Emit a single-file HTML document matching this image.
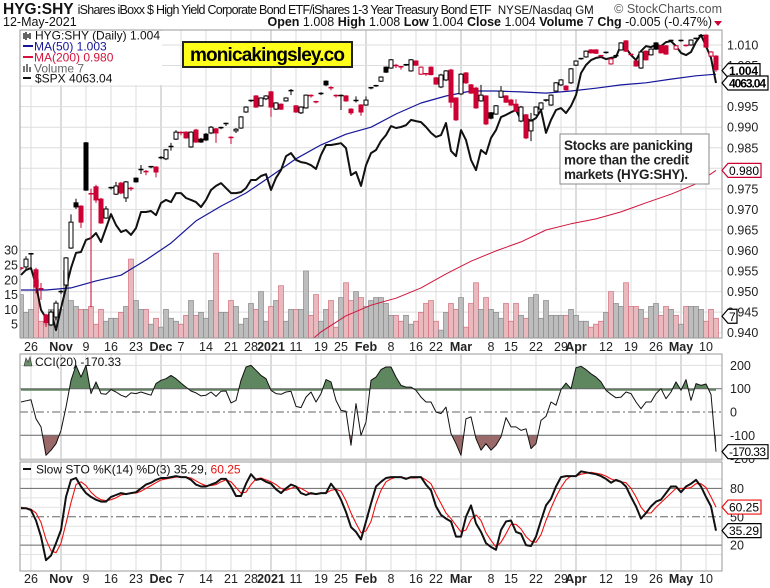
<!DOCTYPE html>
<html><head><meta charset="utf-8">
<style>
html,body{margin:0;padding:0;background:#fff;}
svg{display:block;font-family:"Liberation Sans",Arial,sans-serif;}
</style></head>
<body>
<svg id="chart" width="770" height="588" viewBox="0 0 770 588" xmlns="http://www.w3.org/2000/svg">
<defs>
<clipPath id="mainClip"><rect x="20" y="30" width="702" height="308"/></clipPath>
<clipPath id="cciClip"><rect x="20" y="354" width="702" height="106"/></clipPath>
<clipPath id="stoClip"><rect x="20" y="462" width="702" height="109"/></clipPath>
<clipPath id="cciUp"><rect x="20" y="354" width="702" height="36.7"/></clipPath>
<clipPath id="cciDn"><rect x="20" y="435.3" width="702" height="30"/></clipPath>
</defs>
<rect width="770" height="588" fill="#fff"/>
<g>
<text x="3" y="14" font-size="12.5" fill="#111"><tspan font-weight="bold" font-size="15.5">HYG:SHY</tspan><tspan dx="4" textLength="414">iShares iBoxx $ High Yield Corporate Bond ETF/iShares 1-3 Year Treasury Bond ETF</tspan><tspan dx="7" font-size="11.5">NYSE/Nasdaq GM</tspan></text>
<text x="722" y="13" font-size="12.5" fill="#555" text-anchor="end">© StockCharts.com</text>
<text x="3" y="26" font-size="12.5" fill="#111">12-May-2021</text>
<text x="712" y="26" font-size="12.5" fill="#111" text-anchor="end"><tspan font-weight="bold">Open</tspan> 1.008 <tspan font-weight="bold">High</tspan> 1.008 <tspan font-weight="bold">Low</tspan> 1.004 <tspan font-weight="bold">Close</tspan> 1.004 <tspan font-weight="bold">Volume</tspan> 7 <tspan font-weight="bold">Chg</tspan> -0.005 (-0.47%)</text>
<polygon points="714,21 722,21 718,26" fill="#cc0033"/>
</g>
<g id="panels"></g>
</svg>
<script>
// ---------- data ----------
const tickLabels = ['26','Nov','9','16','23','Dec','7','14','21','28','2021','11','19','25','Feb','8','16','22','Mar','8','15','22','29','Apr','12','19','26','May','10'];
const tickIdx = [2,8,13,18,23,28,32,37,42,46,50,55,60,64,69,74,79,83,88,94,98,103,108,111,117,122,127,132,137];
const tickBold = [false,true,false,false,false,true,false,false,false,false,true,false,false,false,true,false,false,false,true,false,false,false,false,true,false,false,false,true,false];
const priceTicks = [1.010,1.005,1.000,0.995,0.990,0.985,0.980,0.975,0.970,0.965,0.960,0.955,0.950,0.945,0.940];
const volTicks = [5,10,15,20,25,30];
const openP = [.9557,.9560,.9592,.9553,.9507,.9443,.9419,.9438,.9500,.9516,
 .9606,.9716,.9708,.9862,.9738,.9755,.9725,.9679,.9753,.9737,
 .9764,.9728,.9751,.9776,.9797,.9792,.9804,.9803,.9826,.9823,
 .9853,.9871,.9887,.9888,.9852,.9893,.9871,.9883,.9886,.9896,
 .9899,.9909,.9875,.9891,.9898,.9937,.9965,.9976,.9952,.9969,
 .9986,.9944,.9956,.9964,.9989,.9952,.9935,.9947,.9977,.9962,
 .9982,1.0012,.9996,.9977,.9977,.9976,.9944,.9963,.9954,.9954,
 .9996,1.0001,1.0012,1.0046,1.0044,1.0050,1.0047,1.0052,1.0037,1.0061,
 1.0029,1.0030,1.0046,1.0020,.9998,1.0015,1.0039,.9971,.9981,1.0032,
 1.0003,.9995,.9964,.9976,.9935,.9932,.9973,.9976,.9966,.9956,
 .9915,.9930,.9891,.9930,.9944,.9966,.9954,.9988,1.0003,1.0000,
 1.0008,1.0051,1.0067,1.0071,1.0088,1.0088,1.0074,1.0082,1.0054,1.0074,
 1.0088,1.0110,1.0077,1.0061,1.0044,1.0085,1.0076,1.0105,1.0098,1.0098,
 1.0111,1.0090,1.0111,1.0099,1.0100,1.0116,1.0123,1.0124,1.0073,1.0073];
const closeP = [.9557,.9579,.9591,.9511,.9506,.9424,.9450,.9472,.9499,.9582,
 .9669,.9706,.9669,.9747,.9737,.9723,.9667,.9701,.9752,.9757,
 .9740,.9767,.9750,.9767,.9796,.9791,.9803,.9791,.9825,.9845,
 .9852,.9888,.9886,.9874,.9888,.9864,.9864,.9869,.9900,.9886,
 .9898,.9908,.9874,.9895,.9925,.9949,.9964,.9949,.9971,.9976,
 .9949,.9959,.9944,.9971,.9988,.9937,.9949,.9978,.9976,.9961,
 .9981,1.0003,.9995,.9976,.9977,.9964,.9935,.9965,.9937,.9966,
 .9995,1.0000,1.0022,1.0034,1.0064,1.0049,1.0046,1.0051,1.0064,1.0051,
 1.0046,1.0029,1.0028,1.0005,1.0027,1.0037,.9961,.9918,1.0029,1.0008,
 .9983,.9947,.9978,.9908,.9922,.9952,.9988,.9961,.9954,.9939,
 .9949,.9874,.9915,.9949,.9959,.9964,.9978,1.0008,1.0015,.9991,
 1.0042,1.0061,1.0066,1.0085,1.0081,1.0080,1.0073,1.0081,1.0066,1.0073,
 1.0105,1.0085,1.0076,1.0049,1.0083,1.0064,1.0090,1.0090,1.0081,1.0078,
 1.0110,1.0098,1.0110,1.0098,1.0112,1.0115,1.0122,1.0095,1.0083,1.0040];
const highP = [.9560,.9586,.9594,.9558,.9521,.9446,.9455,.9478,.9504,.9584,
 .9688,.9726,.9710,.9864,.9750,.9760,.9728,.9708,.9755,.9767,
 .9767,.9769,.9755,.9778,.9808,.9796,.9805,.9805,.9830,.9847,
 .9862,.9893,.9890,.9890,.9890,.9896,.9874,.9886,.9903,.9898,
 .9901,.9911,.9878,.9898,.9927,.9951,.9966,.9978,.9973,.9978,
 .9988,.9961,.9958,.9973,.9993,.9954,.9951,.9980,.9980,.9964,
 .9985,1.0014,1.0000,.9980,.9980,.9978,.9946,.9975,.9956,.9975,
 .9998,1.0003,1.0024,1.0048,1.0066,1.0054,1.0049,1.0054,1.0066,1.0063,
 1.0048,1.0032,1.0048,1.0022,1.0030,1.0039,1.0042,.9973,1.0032,1.0034,
 1.0005,.9998,1.0003,.9978,.9937,.9954,1.0000,.9978,.9969,.9968,
 .9952,.9932,.9935,.9951,.9961,.9968,.9980,1.0010,1.0017,1.0002,
 1.0044,1.0063,1.0068,1.0087,1.0090,1.0090,1.0076,1.0084,1.0068,1.0076,
 1.0107,1.0112,1.0079,1.0063,1.0085,1.0087,1.0092,1.0107,1.0100,1.0100,
 1.0113,1.0100,1.0113,1.0101,1.0114,1.0118,1.0125,1.0126,1.0085,1.0075];
const lowP = [.9552,.9553,.9553,.9496,.9480,.9414,.9416,.9430,.9494,.9514,
 .9604,.9701,.9655,.9745,.9462,.9716,.9665,.9677,.9748,.9735,
 .9737,.9718,.9745,.9765,.9786,.9783,.9800,.9778,.9822,.9820,
 .9843,.9869,.9880,.9872,.9850,.9862,.9862,.9866,.9883,.9862,
 .9895,.9903,.9859,.9886,.9896,.9935,.9961,.9947,.9950,.9966,
 .9925,.9942,.9942,.9962,.9978,.9935,.9932,.9945,.9972,.9958,
 .9978,1.0000,.9990,.9972,.9942,.9962,.9930,.9960,.9928,.9952,
 .9992,.9998,1.0010,1.0032,1.0042,1.0044,1.0040,1.0049,1.0035,1.0049,
 1.0027,1.0025,1.0026,1.0003,.9995,1.0012,.9947,.9915,.9978,1.0005,
 .9981,.9945,.9962,.9905,.9919,.9930,.9971,.9959,.9952,.9937,
 .9912,.9871,.9866,.9928,.9942,.9962,.9952,.9986,1.0000,.9989,
 1.0005,1.0049,1.0064,1.0069,1.0079,1.0078,1.0071,1.0079,1.0052,1.0071,
 1.0086,1.0083,1.0074,1.0047,1.0042,1.0062,1.0074,1.0088,1.0079,1.0076,
 1.0108,1.0088,1.0108,1.0096,1.0098,1.0113,1.0120,1.0093,1.0071,1.0035];
const volume = [15,9,10,20,6,5,10,7,10,23,
 13,11,10,10,11,5,10,6,7,7,
 9,11,27,13,10,10,5,7,4,10,
 7,6,5,8,13,8,9,7,13,29,
 9,9,13,11,5,7,12,10,16,6,
 11,13,18,6,10,10,10,23,8,15,
 6,10,13,4,14,19,13,16,14,11,
 13,14,14,12,8,8,6,8,5,6,
 9,12,13,6,3,9,12,10,14,4,
 12,19,10,14,10,9,7,12,6,12,
 8,7,14,15,7,13,8,8,8,8,
 10,8,6,6,4,5,6,9,16,12,
 11,19,11,11,10,7,11,12,8,11,
 10,8,5,11,11,11,10,6,10,7];
const spx = [3444,3460,3466,3411,3331,3305,3324,3266,3337,3402,
 3466,3515,3518,3557,3563,3579,3550,3595,3640,3605,
 3582,3589,3573,3595,3647,3647,3650,3637,3676,3686,
 3679,3708,3708,3692,3686,3679,3663,3686,3718,3731,
 3740,3724,3708,3708,3711,3724,3750,3750,3763,3769,
 3718,3757,3782,3827,3837,3815,3808,3805,3798,3786,
 3831,3863,3863,3866,3869,3853,3766,3776,3731,3798,
 3837,3847,3876,3895,3924,3918,3921,3927,3944,3940,
 3937,3921,3902,3889,3895,3934,3844,3827,3911,3879,
 3815,3782,3847,3834,3886,3911,3953,3960,3969,3976,
 3944,3950,3940,3950,3976,3902,3944,3976,3982,3966,
 3989,4024,4095,4121,4137,4144,4147,4140,4144,4147,
 4186,4176,4153,4137,4166,4182,4179,4186,4182,4195,
 4198,4182,4160,4153,4163,4195,4218,4182,4144,4063.04];
const maIdx = [0,5,10,15,20,25,30,35,40,45,50,55,60,65,70,75,80,85,90,95,100,105,110,115,120,125,130,135,139];
const ma50 = [.9504,.9504,.9509,.9526,.9540,.9577,.9618,.9672,.9708,.9740,.9781,.9823,.9857,.9883,.9900,.9932,.9959,.9976,.9988,.9988,.9986,.9983,.9988,.9995,1.0003,1.0008,1.0017,1.0025,1.0029];
const ma200 = [null,null,null,null,null,null,null,null,null,null,null,.9350,.9402,.9441,.9467,.9484,.9509,.9543,.9574,.9599,.9621,.9650,.9665,.9677,.9694,.9716,.9737,.9762,.9795];
const cci = [43,48,53,-29,-64,-186,-164,-136,-79,21,
 136,200,150,200,79,129,79,76,96,86,
 72,64,82,79,86,79,72,122,136,143,
 157,143,124,107,90,82,69,72,86,67,
 89,90,39,50,136,193,200,179,157,143,
 93,79,76,86,89,24,19,64,86,43,
 79,139,129,50,7,3,-143,36,-100,-43,
 136,150,182,193,193,150,114,107,107,93,
 64,43,43,0,-7,21,-93,-136,-186,-29,
 -21,-114,-164,-136,-164,-143,-107,-24,-64,-64,
 -79,-72,-157,-136,-36,-19,43,29,96,124,
 100,190,196,182,164,150,129,93,76,61,
 64,86,79,43,14,43,43,79,100,57,
 86,129,93,139,50,122,114,120,75,-170.33];
const stoK = [59,59,57,46,29,4,9,22,36,71,
 89,91,82,75,71,68,66,66,71,73,
 75,74,75,76,80,84,86,89,91,91,
 92,93,92,92,89,84,82,82,84,86,
 90,90,82,72,72,85,95,89,90,87,
 85,79,75,80,84,82,75,73,75,74,
 75,75,85,78,68,55,39,34,26,45,
 64,82,87,91,92,92,92,90,92,92,
 92,84,78,61,52,48,45,29,29,50,
 62,43,34,22,18,15,36,45,46,34,
 32,20,19,29,46,62,69,82,92,93,
 93,93,98,97,96,95,93,90,86,89,
 87,82,71,61,48,54,61,66,68,75,
 82,82,76,82,85,89,82,71,61,35.29];
const stoD = [60,59,58,54,44,26,14,12,22,43,
 65,84,87,83,76,71,68,67,68,70,
 73,74,75,75,77,80,83,86,89,90,
 91,92,92,92,91,88,85,83,83,84,
 87,89,87,81,75,76,84,90,91,89,
 87,84,80,78,80,82,80,77,74,74,
 75,75,78,79,77,67,54,43,33,35,
 45,64,78,87,90,92,92,91,91,91,
 92,89,85,74,64,54,48,41,34,36,
 47,52,46,33,25,18,23,32,42,42,
 37,29,24,23,31,46,59,71,81,89,
 93,93,95,96,97,96,95,93,90,88,
 87,86,80,71,60,54,54,60,65,70,
 75,80,80,80,81,85,85,81,71,60.25];

// ---------- scales ----------
const L = 20, R = 722;
const X = i => 21 + 5 * i;
const PY = p => 45 + (1.010 - p) / 0.005 * 20.55;
const VY = v => 339 - v * 2.96;
const SY = v => 83 + (4063.04 - v) * 0.31;
const CY = v => 412 - v * 0.233;
const KY = v => 564 - v * 0.945;

const NS = 'http://www.w3.org/2000/svg';
const root = document.getElementById('panels');
function mk(tag, attrs, parent) {
  const e = document.createElementNS(NS, tag);
  for (const k in attrs) e.setAttribute(k, attrs[k]);
  (parent || root).appendChild(e);
  return e;
}
function txt(x, y, s, attrs, parent) {
  const t = mk('text', Object.assign({x: x, y: y, 'font-size': 12.5, fill: '#222'}, attrs || {}), parent);
  t.textContent = s;
  return t;
}

// ---------- panels backgrounds & grids ----------
const panels = [[30, 338, 'price-panel'], [354, 460, 'cci-panel'], [462, 571, 'sto-panel']];
panels.forEach(p => {
  const r = mk('rect', {x: L, y: p[0], width: R - L, height: p[1] - p[0], fill: '#fff', stroke: 'none'});
  
  
  tickIdx.forEach((ti, k) => {
    const gl = mk('line', {x1: X(ti), x2: X(ti), y1: p[0], y2: p[1], stroke: tickBold[k] ? '#b8b8b8' : '#dedede', 'stroke-width': 1});
    
    
  });
});
priceTicks.forEach(p => {
  const y = PY(p);
  const gl = mk('line', {x1: L, x2: R, y1: y, y2: y, stroke: '#dedede'});
  
  
  const t = txt(727, y + 4.5, p.toFixed(3));
  
  
});
volTicks.forEach(v => {
  const t = txt(18, VY(v) + 4.5, String(v), {'text-anchor': 'end'});
  
  
});

// ---------- main panel marks ----------
const gMain = mk('g', {'clip-path': 'url(#mainClip)'});


volume.forEach((v, i) => {
  const down = i > 0 && closeP[i] < closeP[i - 1];
  const b = mk('rect', {x: X(i) - 2.5, y: VY(v), width: 5, height: 339 - VY(v),
    fill: down ? '#e9b9be' : '#bdbdbd', stroke: down ? '#d4707e' : '#8a8a8a', 'stroke-width': 0.7}, gMain);
  
  
});
function poly(idx, vals, fy, color, w, name, parent) {
  let d = '';
  vals.forEach((v, k) => { if (v === null) return; const i = idx ? idx[k] : k; d += (d ? 'L' : 'M') + X(i).toFixed(1) + ',' + fy(v).toFixed(1); });
  const p = mk('path', {d: d, fill: 'none', stroke: color, 'stroke-width': w, 'stroke-linejoin': 'round'}, parent);
  
  
  return p;
}
poly(maIdx, ma200, PY, '#d2143c', 1, 'ma200-line', gMain);
poly(maIdx, ma50, PY, '#16169a', 1.2, 'ma50-line', gMain);
poly(null, spx, SY, '#111', 2, 'spx-line', gMain);
openP.forEach((o, i) => {
  const c = closeP[i];
  const col = (i > 0 && c >= closeP[i - 1]) ? '#000' : '#cc0033';
  const up = c > o;
  const yTop = PY(Math.max(o, c)), yBot = PY(Math.min(o, c));
  const g = mk('g', {}, gMain);
  
  
  mk('line', {x1: X(i), x2: X(i), y1: PY(highP[i]), y2: PY(lowP[i]), stroke: col, 'stroke-width': 1}, g);
  const h = Math.max(yBot - yTop, 1);
  if (h <= 1.2) {
    mk('line', {x1: X(i) - 2.5, x2: X(i) + 2.5, y1: yTop, y2: yTop, stroke: col, 'stroke-width': 1.5}, g);
  } else {
    mk('rect', {x: X(i) - 2, y: yTop, width: 4, height: h, fill: up ? '#fff' : col, stroke: col, 'stroke-width': 1}, g);
  }
});

// ---------- CCI panel ----------
[200, -200].forEach(v => {
  const gl = mk('line', {x1: L, x2: R, y1: CY(v), y2: CY(v), stroke: '#dedede'});
  
  
});
let cciPts = cci.map((v, i) => X(i).toFixed(1) + ',' + CY(v).toFixed(1)).join(' ');
const upFill = mk('polygon', {points: X(0) + ',' + CY(100) + ' ' + cciPts + ' ' + X(cci.length - 1) + ',' + CY(100), fill: '#5f875f', stroke: 'none', 'clip-path': 'url(#cciUp)'});


const dnFill = mk('polygon', {points: X(0) + ',' + CY(-100) + ' ' + cciPts + ' ' + X(cci.length - 1) + ',' + CY(-100), fill: '#9a6a6a', stroke: 'none', 'clip-path': 'url(#cciDn)'});


[100, -100].forEach(v => {
  const gl = mk('line', {x1: L, x2: R, y1: CY(v), y2: CY(v), stroke: '#666', 'stroke-width': 1});
  
  
});
const z0 = mk('line', {x1: L, x2: R, y1: CY(0), y2: CY(0), stroke: '#666', 'stroke-dasharray': '8,3,2,3'});


[200, 100, 0, -100, -200].forEach(v => {
  const t = txt(730, CY(v) + 4.5, String(v));
  
  
});
const gC = mk('g', {'clip-path': 'url(#cciClip)'});


poly(null, cci, CY, '#111', 1, 'cci-line', gC);

// ---------- STO panel ----------
[10, 30, 40, 60, 70, 90].forEach(v => {
  const gl = mk('line', {x1: L, x2: R, y1: KY(v), y2: KY(v), stroke: '#e2e2e2'});
  
  
});
[80, 20].forEach(v => {
  const gl = mk('line', {x1: L, x2: R, y1: KY(v), y2: KY(v), stroke: '#666'});
  
  
});
const s50 = mk('line', {x1: L, x2: R, y1: KY(50), y2: KY(50), stroke: '#666', 'stroke-dasharray': '8,3,2,3'});


[80, 50, 20].forEach(v => {
  const t = txt(730, KY(v) + 4.5, String(v));
  
  
});
const gS = mk('g', {'clip-path': 'url(#stoClip)'});


poly(null, stoD, KY, '#ee1111', 1.1, 'sto-d-line', gS);
poly(null, stoK, KY, '#111', 2, 'sto-k-line', gS);

// ---------- borders ----------
panels.forEach(p => {
  const b = mk('rect', {x: L, y: p[0], width: R - L, height: p[1] - p[0], fill: 'none', stroke: '#9a9a9a', 'stroke-width': 1});
  
  
});

// ---------- date axes ----------
[351, 583].forEach(yb => {
  tickIdx.forEach((ti, k) => {
    const t = txt(X(ti), yb, tickLabels[k], {'text-anchor': 'middle', 'font-weight': tickBold[k] ? 'bold' : 'normal', fill: '#222'});
    
    
  });
});

// ---------- value tags ----------
function tag(y, label, color, bold, w, name) {
  const g = mk('g', {});
  
  
  mk('polygon', {points: `722,${y} 728,${y - 7} ${728 + w},${y - 7} ${728 + w},${y + 7} 728,${y + 7}`, fill: '#fff', stroke: color, 'stroke-width': 1.2}, g);
  txt(729, y + 4.5, label, {'font-weight': bold ? 'bold' : 'normal', fill: '#000', 'font-size': 12, textLength: w - 3}, g);
}
tag(PY(closeP[closeP.length - 1]) + 1, '1.004', '#000', true, 32, 'last-price-tag');
tag(SY(spx[spx.length - 1]), '4063.04', '#000', true, 40, 'spx-value-tag');
tag(PY(ma200[ma200.length - 1]), '0.980', '#cc0033', false, 33, 'ma200-value-tag');
tag(VY(volume[volume.length - 1]) - 2, '7', '#000', false, 9, 'volume-value-tag');
tag(CY(cci[cci.length - 1]), '-170.33', '#000', false, 40, 'cci-value-tag');
tag(KY(stoD[stoD.length - 1]), '60.25', '#ee1111', false, 33, 'sto-d-value-tag');
tag(KY(stoK[stoK.length - 1]), '35.29', '#000', false, 33, 'sto-k-value-tag');

// ---------- legends ----------
const lg = mk('g', {});


mk('rect', {x: 21, y: 31, width: 141, height: 54, fill: '#fff'}, lg);
mk('path', {d: 'M24,33v6M26,32v8M28,34v4M30,33v6', stroke: '#111', 'stroke-width': 1.3}, lg);
txt(35, 39.5, 'HYG:SHY (Daily) 1.004', {fill: '#111', 'font-size': 12, textLength: 125}, lg);
mk('line', {x1: 23, x2: 33, y1: 46, y2: 46, stroke: '#16169a', 'stroke-width': 2}, lg);
txt(34, 50.5, 'MA(50) 1.003', {fill: '#16169a', 'font-size': 12}, lg);
mk('line', {x1: 23, x2: 33, y1: 57, y2: 57, stroke: '#d2143c', 'stroke-width': 2}, lg);
txt(34, 61.5, 'MA(200) 0.980', {fill: '#d2143c', 'font-size': 12}, lg);
mk('path', {d: 'M24,72v-6M27,72v-8M30,72v-5', stroke: '#777', 'stroke-width': 2}, lg);
txt(34, 72.5, 'Volume 7', {fill: '#666', 'font-size': 12}, lg);
mk('line', {x1: 23, x2: 31, y1: 78, y2: 78, stroke: '#111', 'stroke-width': 2}, lg);
txt(35, 82.5, '$SPX 4063.04', {fill: '#111', 'font-size': 12}, lg);

const cl = mk('g', {});


mk('polygon', {points: '24,366 26,358 28,362 30,357 32,366', fill: '#6b8f6b', stroke: '#333', 'stroke-width': 0.6}, cl);
txt(35, 366, 'CCI(20) -170.33', {fill: '#111', 'font-size': 12}, cl);

const sl = mk('g', {});


mk('line', {x1: 23, x2: 31, y1: 469, y2: 469, stroke: '#111', 'stroke-width': 2}, sl);
const st = txt(36, 473.5, 'Slow STO %K(14) %D(3) 35.29, ', {fill: '#111', 'font-size': 12}, sl);
const red = document.createElementNS(NS, 'tspan');
red.setAttribute('fill', '#ee1111');
red.textContent = '60.25';
st.appendChild(red);

// ---------- watermark & annotation ----------
const wm = mk('g', {});


mk('rect', {x: 183, y: 42, width: 169, height: 25, fill: '#ffff1a', stroke: '#222', 'stroke-width': 2}, wm);
txt(267.5, 61, 'monicakingsley.co', {'text-anchor': 'middle', 'font-weight': 'bold', 'font-size': 19, fill: '#000', textLength: 155}, wm);

const an = mk('g', {});


mk('rect', {x: 560, y: 134, width: 149, height: 50, fill: '#fff', stroke: '#888', 'stroke-width': 1}, an);
txt(564, 150, 'Stocks are panicking', {'font-weight': 'bold', 'font-size': 13.5, fill: '#222', textLength: 129}, an);
txt(564, 164.5, 'more than the credit', {'font-weight': 'bold', 'font-size': 13.5, fill: '#222', textLength: 125}, an);
txt(564, 179, 'markets (HYG:SHY).', {'font-weight': 'bold', 'font-size': 13.5, fill: '#222', textLength: 124}, an);
</script>
</body></html>
